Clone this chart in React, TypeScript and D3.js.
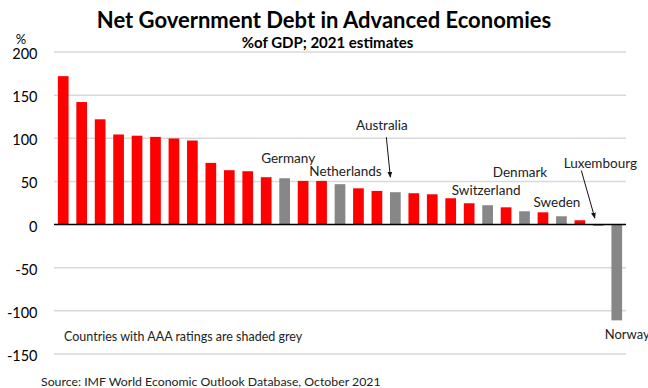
import React from "react";
import * as d3 from "d3";

const countries = [
  "Japan", "Italy", "Portugal", "United States", "Spain", "France", "United Kingdom", "Belgium",
  "Cyprus", "Austria", "Slovenia", "Ireland", "Germany", "Malta", "Finland", "Netherlands",
  "Israel", "Canada", "Australia", "Latvia", "Slovak Republic", "Lithuania", "New Zealand",
  "Switzerland", "Czech Republic", "Denmark", "Estonia", "Sweden", "Iceland", "Luxembourg", "Norway",
];
const values = [
  172, 142, 122, 104.4, 103, 101.6, 99.8, 97.4, 71.5, 63, 61.8, 54.9, 53.7, 50.6, 50.6, 46.8,
  42, 39, 37.5, 36.3, 35.1, 30.5, 24.7, 22.4, 20, 15.4, 14.2, 9.6, 5, -1.5, -111,
];
const aaaRated = ["Germany", "Netherlands", "Australia", "Switzerland", "Denmark", "Sweden", "Luxembourg", "Norway"];
const yTicks = [200, 150, 100, 50, 0, -50, -100, -150];

type Ann = { name: string; dx: number; dy: number; anchor: string; arrow?: [number, number, number, number] };
const annotations: Ann[] = [
  { name: "Germany", dx: 3.5, dy: -15, anchor: "middle" },
  { name: "Netherlands", dx: 5.5, dy: -8, anchor: "middle" },
  { name: "Australia", dx: -13.5, dy: -62, anchor: "middle", arrow: [-9, -55, -5, -15] },
  { name: "Switzerland", dx: -1.5, dy: -10, anchor: "middle" },
  { name: "Denmark", dx: -4.5, dy: -34, anchor: "middle" },
  { name: "Sweden", dx: -4.5, dy: -9, anchor: "middle" },
  { name: "Luxembourg", dx: 2, dy: -57, anchor: "middle", arrow: [-17, -54, -3.5, -6.5] },
];

const W = 648;
const H = 388;
const left = 54;
const right = 626;
const FONT = "Lato, 'Open Sans', sans-serif";

export default function App() {
  const x = d3.scaleBand<string>().domain(countries).range([left, right]).paddingInner(0.42).paddingOuter(0.21);
  const y = d3.scaleLinear().domain([-150, 200]).range([354, 52]);
  const data = countries.map((c, i) => ({ c, v: values[i] }));
  const byName = new Map(data.map((d) => [d.c, d.v]));
  const xc = (c: string) => (x(c) ?? 0) + x.bandwidth() / 2;

  return (
    <svg width={W} height={H} style={{ position: "absolute", left: 0, top: 0, background: "#fff" }} fontFamily={FONT}>
      <defs>
        <marker id="arr" viewBox="0 0 10 10" refX="9" refY="5" markerWidth="6" markerHeight="6" orient="auto">
          <path d="M0,1 L10,5 L0,9 z" fill="#111" />
        </marker>
      </defs>
      <rect x={0} y={0} width={W} height={H} fill="#fff" />
      <text x={324} y={28} textAnchor="middle" fontSize={22} fontWeight={700} fill="#000">
        Net Government Debt in Advanced Economies
      </text>
      <text x={327.5} y={48} textAnchor="middle" fontSize={15} fontWeight={700} fill="#000">
        %of GDP; 2021 estimates
      </text>
      <text x={21} y={44} textAnchor="middle" fontSize={13} fill="#000">%</text>
      {yTicks.map((t) => (
        <g key={t}>
          {t !== 0 && <line x1={left} x2={right} y1={y(t)} y2={y(t)} stroke="#d9d9d9" strokeWidth={1.5} />}
          <text x={37.5} y={y(t) + 1.5} textAnchor="end" dominantBaseline="central" fontSize={14.5} fill="#000">
            {t}
          </text>
        </g>
      ))}
      {data.map((d) => (
        <rect
          key={d.c}
          x={x(d.c)}
          y={Math.min(y(d.v), y(0))}
          width={x.bandwidth()}
          height={Math.abs(y(d.v) - y(0))}
          fill={aaaRated.includes(d.c) ? "#878787" : "#ff0000"}
        />
      ))}
      <line x1={left} x2={right} y1={y(0)} y2={y(0)} stroke="#000" strokeWidth={1.5} />
      {annotations.map((a) => {
        const v = byName.get(a.name) ?? 0;
        const bx = xc(a.name);
        const by = y(Math.max(v, 0));
        return (
          <g key={a.name}>
            <text x={bx + a.dx} y={by + a.dy} textAnchor={a.anchor} fontSize={13.5} fill="#222">
              {a.name}
            </text>
            {a.arrow && (
              <line
                x1={bx + a.arrow[0]}
                y1={by + a.arrow[1]}
                x2={bx + a.arrow[2]}
                y2={by + a.arrow[3]}
                stroke="#111"
                strokeWidth={1}
                markerEnd="url(#arr)"
              />
            )}
          </g>
        );
      })}
      <text x={xc("Norway") - 12} y={339} textAnchor="start" fontSize={13} fill="#222">Norway</text>
      <text x={64} y={341} fontSize={12.5} fill="#222">Countries with AAA ratings are shaded grey</text>
      <text x={41} y={386} fontSize={12.3} fill="#222">Source: IMF World Economic Outlook Database, October 2021</text>
    </svg>
  );
}
